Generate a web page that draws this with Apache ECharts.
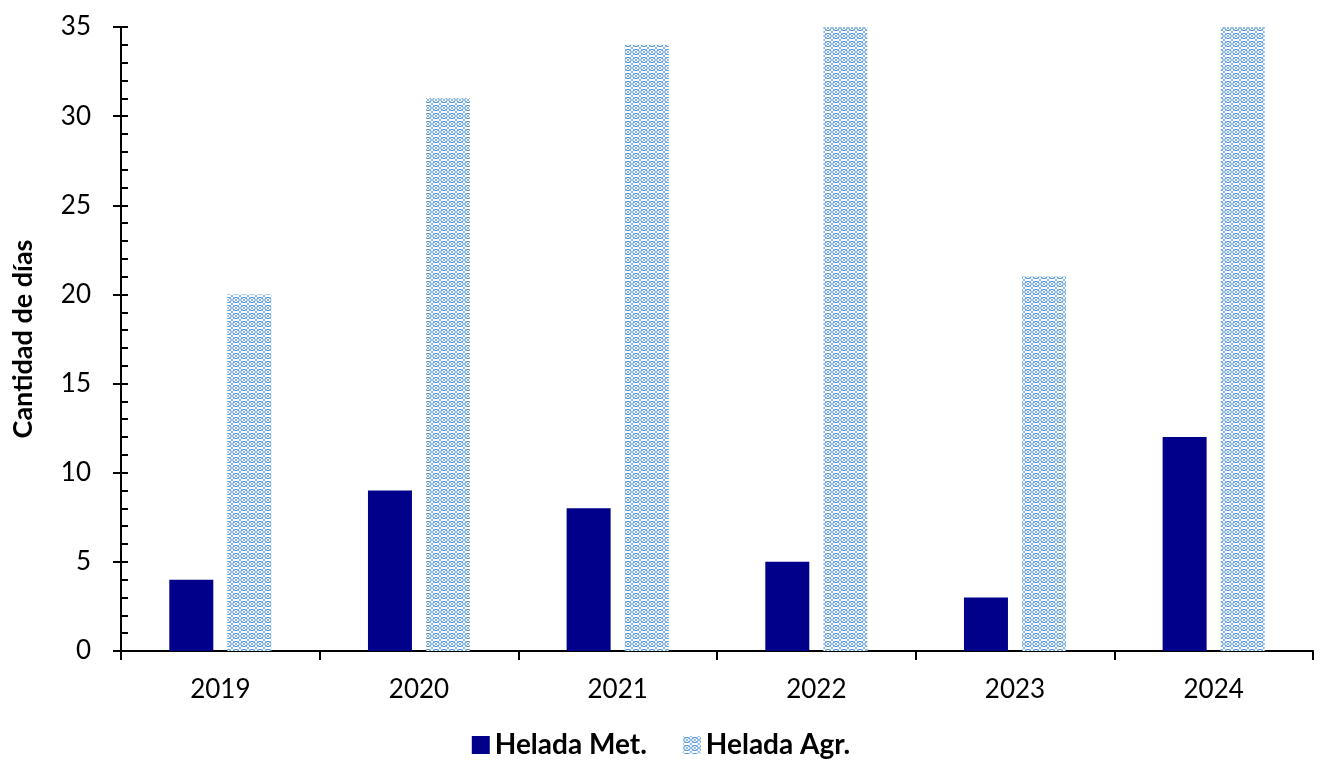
<!DOCTYPE html>
<html>
<head>
<meta charset="utf-8">
<script src="https://cdn.jsdelivr.net/npm/echarts@6/dist/echarts.min.js"></script>
<style>html,body{margin:0;padding:0;background:#fff}#c{width:1322px;height:765px}</style>
</head>
<body>
<div id="c"></div>
<script>
const categories = ['2019', '2020', '2021', '2022', '2023', '2024'];
const heladaMet = [4, 9, 8, 5, 3, 12];
const heladaAgr = [20, 31, 34, 35, 21, 35];
const yTicks = [0, 5, 10, 15, 20, 25, 30, 35];

function makePattern() {
  const s = 8;
  const cv = document.createElement('canvas');
  cv.width = s; cv.height = s;
  const ctx = cv.getContext('2d');
  ctx.fillStyle = '#ffffff';
  ctx.fillRect(0, 0, s, s);
  ctx.strokeStyle = '#4a8fd4';
  ctx.lineWidth = 1;
  ctx.beginPath();
  ctx.ellipse(s / 2, s / 2, 3.3, 2.6, 0, 0, Math.PI * 2);
  ctx.stroke();
  ctx.strokeStyle = '#8dbbe6';
  ctx.beginPath();
  ctx.moveTo(0, 0); ctx.lineTo(s, s);
  ctx.moveTo(s, 0); ctx.lineTo(0, s);
  ctx.stroke();
  return cv;
}

const chart = echarts.init(document.getElementById('c'));
const font = 'Lato, "Open Sans", sans-serif';
chart.setOption({
  animation: false,
  grid: { left: 121, right: 9, top: 27, bottom: 114 },
  legend: {
    bottom: 1,
    left: 'center',
    icon: 'rect',
    itemWidth: 18,
    itemHeight: 18,
    itemGap: 36,
    textStyle: { fontFamily: font, fontSize: 28, fontWeight: 'bold', color: '#000' },
    data: ['Helada Met.', 'Helada Agr.']
  },
  xAxis: {
    type: 'category',
    data: categories,
    axisLine: { lineStyle: { color: '#000', width: 2 } },
    axisTick: { show: true, length: 9, lineStyle: { color: '#000', width: 2 } },
    axisLabel: { fontFamily: font, fontSize: 26, color: '#000', margin: 26 }
  },
  yAxis: [{
    type: 'value',
    min: 0, max: 35, interval: 5,
    name: 'Cantidad de días',
    nameLocation: 'middle',
    nameGap: 84,
    nameTextStyle: { fontFamily: font, fontSize: 27, fontWeight: 'bold', color: '#000' },
    axisLine: { show: true, lineStyle: { color: '#000', width: 2 } },
    axisTick: { show: true, length: 8, lineStyle: { color: '#000', width: 2 } },
    axisLabel: {
      fontFamily: font, fontSize: 26, color: '#000', margin: 30,
      formatter: v => yTicks.includes(v) ? String(v) : ''
    },
    splitLine: { show: false }
  }, {
    type: 'value',
    position: 'left',
    min: 0, max: 35, interval: 1,
    axisLine: { show: false },
    axisTick: { show: true, inside: true, length: 7, lineStyle: { color: '#000', width: 2 } },
    axisLabel: { show: false },
    splitLine: { show: false }
  }],
  series: [{
    name: 'Helada Met.',
    type: 'bar',
    data: heladaMet,
    barWidth: 44,
    barGap: '32%',
    itemStyle: { color: '#00008b' }
  }, {
    name: 'Helada Agr.',
    type: 'bar',
    data: heladaAgr,
    barWidth: 44,
    itemStyle: { color: { image: makePattern(), repeat: 'repeat' } }
  }]
});
</script>
</body>
</html>
